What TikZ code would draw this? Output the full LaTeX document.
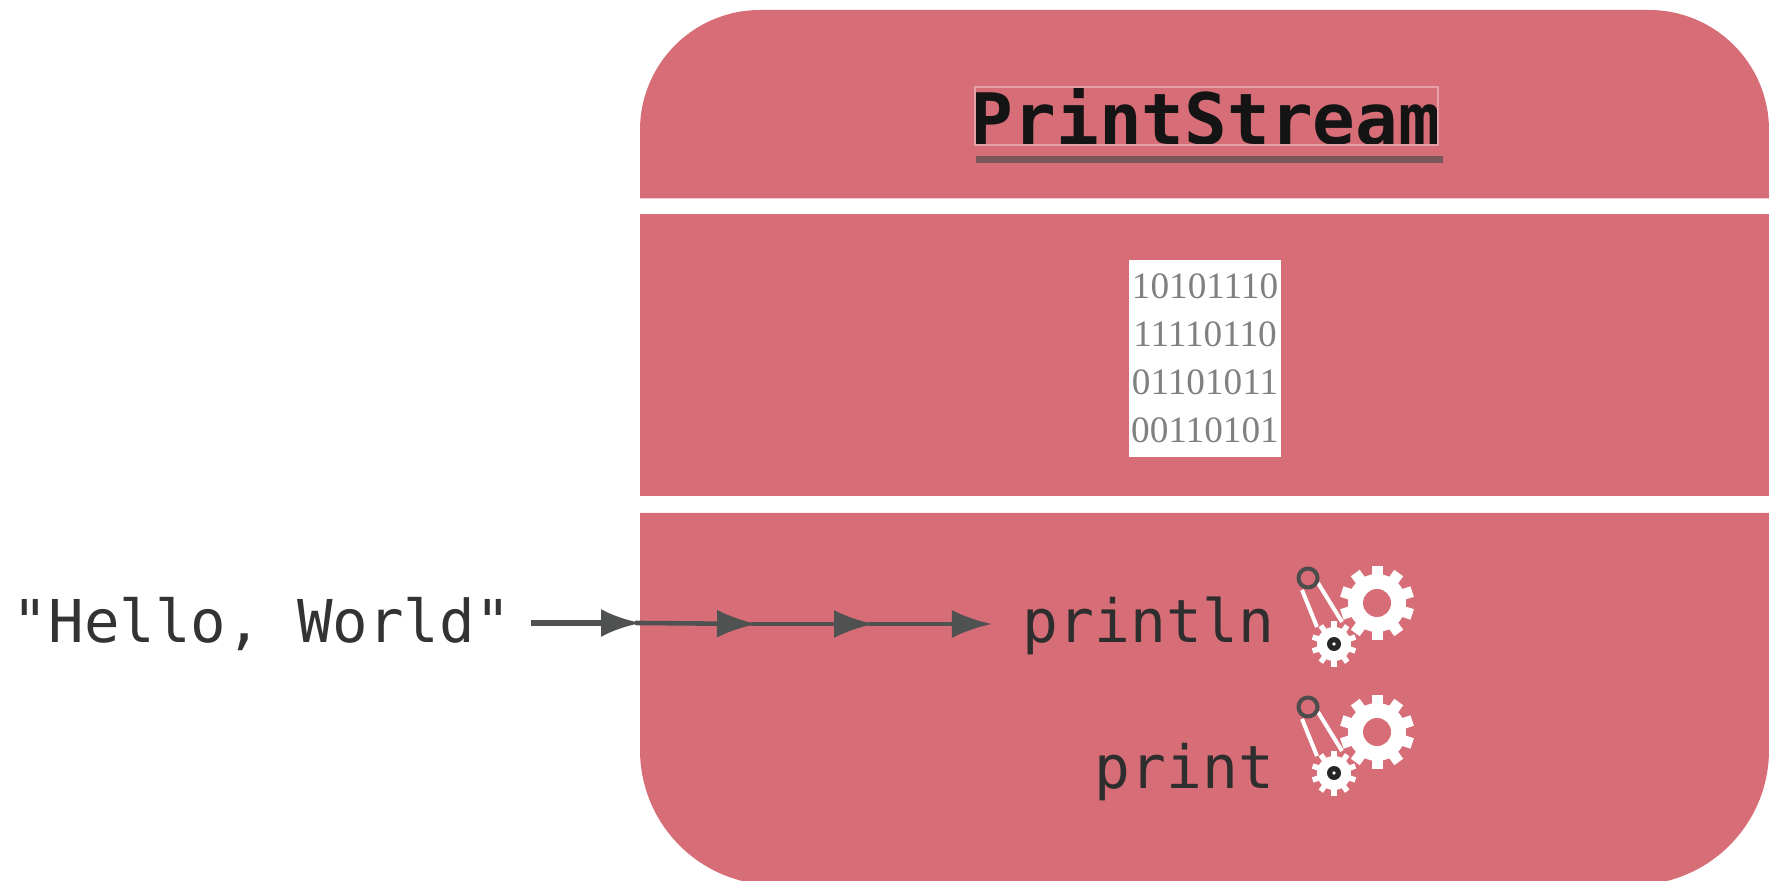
\documentclass[tikz,border=0pt]{standalone}
\usepackage{fontspec}
\setmainfont{Liberation Serif}
\setmonofont{DejaVu Sans Mono}
\usetikzlibrary{arrows.meta}
\definecolor{panelred}{RGB}{215,109,118}
\definecolor{flowgray}{RGB}{80,82,82}
\tikzset{
  band/.style={fill=panelred},
  flow/.style={draw=flowgray, line width=1.3pt, -{Latex[length=0.4cm, width=0.28cm]}},
  method/.style={font=\ttfamily\fontsize{16.95}{20}\selectfont, text=black!82, inner xsep=0.31cm, inner ysep=0pt, outer sep=0pt},
  gears/.pic={
    \foreach \a in {90,126,...,414} {\draw[white, line width=0.11cm] (0.43,0.22) -- ++(\a:0.37);}
    \fill[white] (0.43,0.22) circle (0.29);
    \fill[panelred] (0.43,0.22) circle (0.14);
    \foreach \a in {90,126,...,414} {\draw[white, line width=0.055cm] (0,-0.19) -- ++(\a:0.225);}
    \fill[white] (0,-0.19) circle (0.17);
    \fill[black!85] (0,-0.19) circle (0.07);
    \fill[white] (0,-0.19) circle (0.018);
    \draw[white, line width=0.04cm] (-0.32,0.35) -- (-0.17,-0.02);
    \draw[white, line width=0.04cm] (-0.16,0.42) -- (0.08,0.03);
    \draw[black!70, line width=0.04cm] (-0.26,0.47) circle (0.095);
  }
}
\begin{document}
\begin{tikzpicture}
\useasboundingbox (0,0) rectangle (17.69,8.8);

\fill[band] (6.4,6.815) -- (6.4,7.5) arc[start angle=180, end angle=90, radius=1.2] -- (16.49,8.7) arc[start angle=90, end angle=0, radius=1.2] -- (17.69,6.815) -- cycle;
\fill[band] (6.4,3.835) rectangle (17.69,6.66);
\fill[band] (6.4,3.67) -- (6.4,1.3) arc[start angle=180, end angle=270, radius=1.35] -- (16.34,-0.05) arc[start angle=270, end angle=360, radius=1.35] -- (17.69,3.67) -- cycle;

\node[font=\ttfamily\bfseries\fontsize{20.2}{24}\selectfont, text=black!92, anchor=base, inner sep=0pt] (title) at (12.06,7.35) {PrintStream};
\draw[white!35!panelred, line width=0.3pt] (9.75,7.35) rectangle (14.38,7.93);
\draw[black!45!panelred!60!gray, line width=0.07cm] (9.76,7.2) -- (14.43,7.2);

\node[fill=white, text=black!50, minimum width=1.52cm, minimum height=1.97cm, inner sep=0pt, align=center, font=\fontsize{10.6}{13.66}\selectfont] (bits) at (12.05,5.215) {10101110\\11110110\\01101011\\00110101};

\node[method, anchor=base east] (println) at (13.05,2.37) {println};
\node[method, anchor=base east] (print) at (13.05,0.92) {print};
\node[font=\ttfamily\fontsize{16.8}{20}\selectfont, text=black!80, anchor=base west, inner xsep=0.2cm, inner ysep=0pt, outer sep=0pt] (hello) at (-0.07,2.37) {"Hello, World"};

\coordinate (tip1) at (6.41,2.57);
\coordinate (tip2) at (7.57,2.56);
\coordinate (tip3) at (8.74,2.56);
\draw[flow, line width=1.7pt] (hello.east |- tip1) -- (tip1);
\draw[flow, shorten <=-0.06cm] (tip1) -- (tip2);
\draw[flow, shorten <=-0.06cm] (tip2) -- (tip3);
\draw[flow, shorten <=-0.06cm] (tip3) -- (println.west |- tip3);

\pic at (13.34,2.55) {gears};
\pic at (13.34,1.26) {gears};
\end{tikzpicture}
\end{document}
